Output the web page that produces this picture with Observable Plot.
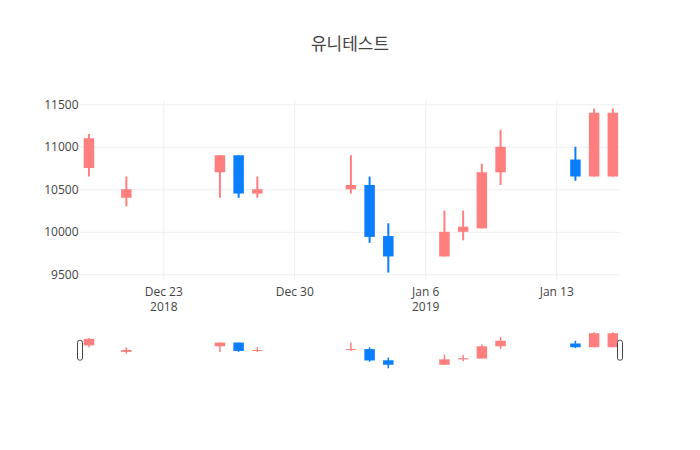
<!DOCTYPE html>
<html>
<head>
<meta charset="utf-8">
<script src="https://cdn.jsdelivr.net/npm/d3@7"></script>
<script src="https://cdn.jsdelivr.net/npm/@observablehq/plot@0.6"></script>
<style>
  html, body { margin: 0; padding: 0; background: #fff; }
  #wrap { position: relative; width: 700px; height: 450px; font-family: "Open Sans", "Noto Sans CJK KR", sans-serif; }
  #title { position: absolute; left: 0; top: 32px; width: 700px; text-align: center; font-size: 17px; color: #444; line-height: 24px; font-family: "Open Sans", "Noto Sans CJK KR", sans-serif; }
  #main { position: absolute; left: 0; top: 60px; }
  #slider { position: absolute; left: 0; top: 325px; }
</style>
</head>
<body>
<div id="wrap">
  <div id="title">유니테스트</div>
  <div id="main"></div>
  <div id="slider"></div>
</div>
<script>
const dates = ["2018-12-19","2018-12-21","2018-12-26","2018-12-27","2018-12-28",
               "2019-01-02","2019-01-03","2019-01-04","2019-01-07","2019-01-08",
               "2019-01-09","2019-01-10","2019-01-14","2019-01-15","2019-01-16"];
const open  = [10750, 10400, 10700, 10900, 10450, 10500, 10550, 9950, 9710, 10000, 10040, 10700, 10850, 10650, 10650];
const high  = [11150, 10650, 10900, 10900, 10650, 10900, 10650, 10100, 10250, 10250, 10800, 11200, 11000, 11450, 11450];
const low   = [10650, 10300, 10400, 10400, 10400, 10450, 9870, 9520, 9710, 9900, 10040, 10550, 10600, 10650, 10650];
const close = [11100, 10500, 10900, 10450, 10500, 10550, 9940, 9710, 10000, 10060, 10700, 11000, 10650, 11400, 11400];

const yTicks = [9500, 10000, 10500, 11000, 11500];
const xTickDates = ["2018-12-23", "2018-12-30", "2019-01-06", "2019-01-13"];
const xTickLabels = ["Dec 23\n2018", "Dec 30", "Jan 6\n2019", "Jan 13"];

const upColor = "#ff7f7f";
const downColor = "#0a7efc";

const data = dates.map((d, i) => ({
  date: new Date(d + "T00:00:00Z"),
  open: open[i], high: high[i], low: low[i], close: close[i],
  color: close[i] >= open[i] ? upColor : downColor
}));
const xTicks = xTickDates.map(d => new Date(d + "T00:00:00Z"));
const xLabel = new Map(xTicks.map((d, i) => [+d, xTickLabels[i]]));

const xDomain = [new Date("2018-12-18T13:10:00Z"), new Date("2019-01-16T09:50:00Z")];

const main = Plot.plot({
  width: 700,
  height: 270,
  marginTop: 40,
  marginBottom: 50,
  marginLeft: 80,
  marginRight: 80,
  style: { fontFamily: "'Open Sans', sans-serif", fontSize: "12px", color: "#444", background: "white" },
  x: { type: "utc", domain: xDomain },
  y: { domain: [9433, 11550] },
  marks: [
    Plot.gridY(yTicks, { stroke: "#eee", strokeOpacity: 1 }),
    Plot.gridX(xTicks, { stroke: "#eee", strokeOpacity: 1 }),
    Plot.ruleX(data, { x: "date", y1: "low", y2: "high", stroke: "color", strokeWidth: 2 }),
    Plot.ruleX(data, { x: "date", y1: "open", y2: "close", stroke: "color", strokeWidth: 10.5 }),
    Plot.axisY(yTicks, { tickSize: 0, tickPadding: 2, tickFormat: d => String(d), label: null, fontSize: 12 }),
    Plot.axisX(xTicks, { tickSize: 0, tickPadding: 4, tickFormat: d => xLabel.get(+d), label: null, lineHeight: 1.3, fontSize: 12 })
  ]
});
document.getElementById("main").appendChild(main);

const sDomain = [9429, 11546];
const handles = [
  { x: xDomain[0], y1: sDomain[0] + 0.25 * (sDomain[1] - sDomain[0]), y2: sDomain[0] + 0.75 * (sDomain[1] - sDomain[0]) },
  { x: xDomain[1], y1: sDomain[0] + 0.25 * (sDomain[1] - sDomain[0]), y2: sDomain[0] + 0.75 * (sDomain[1] - sDomain[0]) }
];

const slider = Plot.plot({
  width: 700,
  height: 50,
  marginTop: 5.5,
  marginBottom: 5,
  marginLeft: 80,
  marginRight: 80,
  style: { background: "transparent" },
  x: { type: "utc", domain: xDomain, axis: null },
  y: { domain: sDomain, axis: null },
  marks: [
    Plot.ruleX(data, { x: "date", y1: "low", y2: "high", stroke: "color", strokeWidth: 1.5 }),
    Plot.ruleX(data, { x: "date", y1: "open", y2: "close", stroke: "color", strokeWidth: 10.5 }),
    Plot.rect(handles, { x1: "x", x2: "x", y1: "y1", y2: "y2", insetLeft: -2.5, insetRight: -2.5, rx: 2, fill: "white", stroke: "#444", strokeWidth: 1 })
  ]
});
document.getElementById("slider").appendChild(slider);
</script>
</body>
</html>
